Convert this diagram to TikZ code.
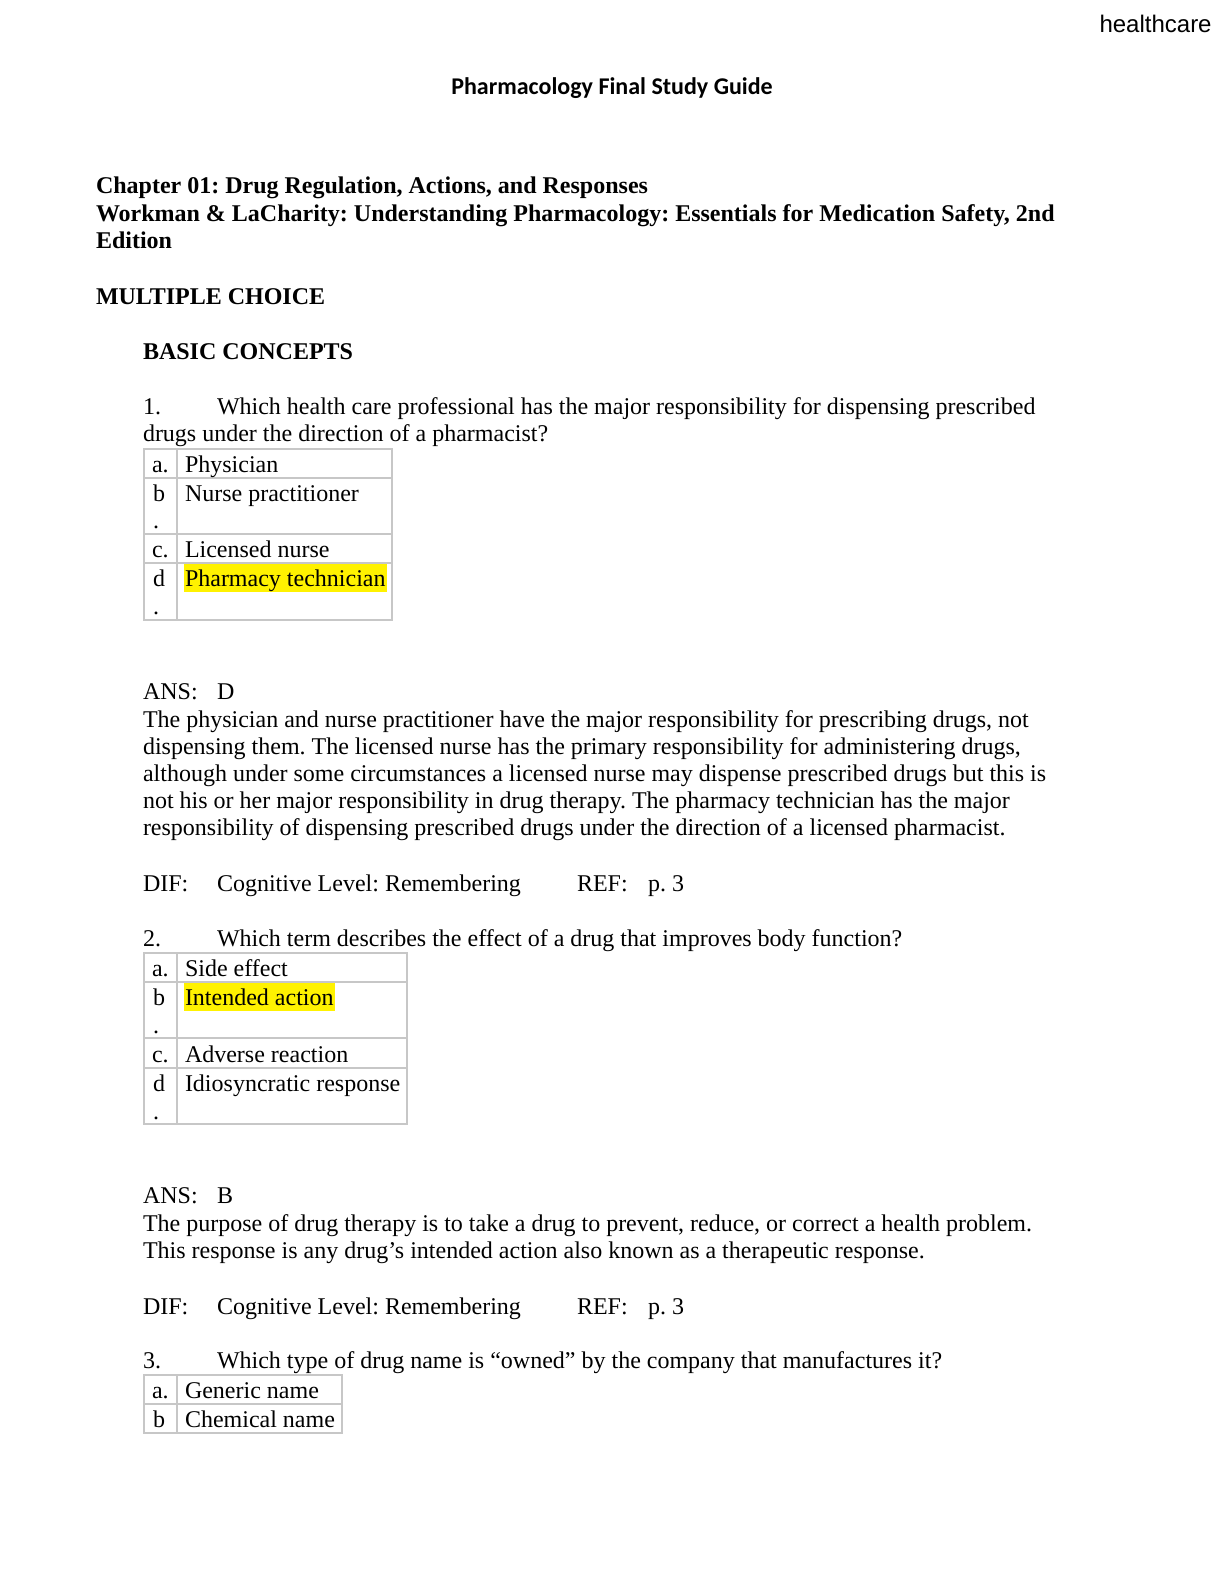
\documentclass[tikz,border=0pt]{standalone}
\usepackage{fontspec}
\setmainfont{Liberation Serif}
\newfontfamily\hcfont{Liberation Sans}
\newfontfamily\ttlfont{Carlito}
\frenchspacing
\begin{document}
\frenchspacing
\begin{tikzpicture}[x=0.5pt,y=-0.5pt,
  txt/.style={anchor=base west,inner sep=0pt,outer sep=0pt,font=\fontsize{12}{13.8}\selectfont},
  bld/.style={txt,font=\fontsize{12}{13.8}\selectfont\bfseries},
  hl/.style={txt,fill=yellow,text height=11pt,text depth=3pt,inner xsep=0.5pt},
  grid/.style={draw=black!22,line width=1pt}]
\useasboundingbox[fill=white] (0,0) rectangle (1224,1584);

% header
\node[anchor=base east,inner sep=0pt,font=\hcfont\fontsize{12}{14}\selectfont] (hc) at (1212,33) {healthcare};
\node[anchor=base,inner sep=0pt,font=\ttlfont\bfseries\fontsize{12}{14}\selectfont] (title) at (612,95) {Pharmacology Final Study Guide};

% headings
\node[bld] (ch) at (96,193) {Chapter 01: Drug Regulation, Actions, and Responses};
\node[bld] (wk) at (96,221) {Workman \& LaCharity: Understanding Pharmacology: Essentials for Medication Safety, 2nd};
\node[bld] (ed) at (96,248) {Edition};
\node[bld] (mc) at (96,304) {MULTIPLE CHOICE};
\node[bld] (bc) at (143,359) {BASIC CONCEPTS};

% question 1
\node[txt] (q1n) at (143,414) {1.};
\node[txt] (q1a) at (217,414) {Which health care professional has the major responsibility for dispensing prescribed};
\node[txt] (q1b) at (143,441) {drugs under the direction of a pharmacist?};

\node[hl] (q1hl) at (184,586) {Pharmacy technician};
\draw[grid] (144,449) rectangle (392,620);
\draw[grid] (177,449) -- (177,620);
\foreach \yy in {478,534,563} \draw[grid] (144,\yy) -- (392,\yy);
\node[txt] (q1la) at (152,472) {a.};
\node[txt] (q1ta) at (185,472) {Physician};
\node[txt] (q1lb) at (153,501) {b};
\node[txt] (q1lbd) at (153,528) {.};
\node[txt] (q1tb) at (185,501) {Nurse practitioner};
\node[txt] (q1lc) at (152,557) {c.};
\node[txt] (q1tc) at (185,557) {Licensed nurse};
\node[txt] (q1ld) at (153,586) {d};
\node[txt] (q1ldd) at (153,614) {.};

\node[txt] (a1) at (143,699) {ANS:};
\node[txt] (a1v) at (217,699) {D};
\node[txt] (e1a) at (143,727) {The physician and nurse practitioner have the major responsibility for prescribing drugs, not};
\node[txt] (e1b) at (143,754) {dispensing them. The licensed nurse has the primary responsibility for administering drugs,};
\node[txt] (e1c) at (143,781) {although under some circumstances a licensed nurse may dispense prescribed drugs but this is};
\node[txt] (e1d) at (143,808) {not his or her major responsibility in drug therapy. The pharmacy technician has the major};
\node[txt] (e1e) at (143,835) {responsibility of dispensing prescribed drugs under the direction of a licensed pharmacist.};

\node[txt] (d1) at (143,891) {DIF:};
\node[txt] (d1v) at (217,891) {Cognitive Level: Remembering};
\node[txt] (r1) at (577,891) {REF:};
\node[txt] (r1v) at (648,891) {p. 3};

% question 2
\node[txt] (q2n) at (143,946) {2.};
\node[txt] (q2a) at (217,946) {Which term describes the effect of a drug that improves body function?};

\node[hl] (q2hl) at (184,1005) {Intended action};
\draw[grid] (144,953) rectangle (407,1124);
\draw[grid] (177,953) -- (177,1124);
\foreach \yy in {982,1038,1068} \draw[grid] (144,\yy) -- (407,\yy);
\node[txt] (q2la) at (152,976) {a.};
\node[txt] (q2ta) at (185,976) {Side effect};
\node[txt] (q2lb) at (153,1005) {b};
\node[txt] (q2lbd) at (153,1033) {.};
\node[txt] (q2lc) at (152,1062) {c.};
\node[txt] (q2tc) at (185,1062) {Adverse reaction};
\node[txt] (q2ld) at (153,1091) {d};
\node[txt] (q2ldd) at (153,1119) {.};
\node[txt] (q2td) at (185,1091) {Idiosyncratic response};

\node[txt] (a2) at (143,1203) {ANS:};
\node[txt] (a2v) at (217,1203) {B};
\node[txt] (e2a) at (143,1231) {The purpose of drug therapy is to take a drug to prevent, reduce, or correct a health problem.};
\node[txt] (e2b) at (143,1258) {This response is any drug’s intended action also known as a therapeutic response.};

\node[txt] (d2) at (143,1314) {DIF:};
\node[txt] (d2v) at (217,1314) {Cognitive Level: Remembering};
\node[txt] (r2) at (577,1314) {REF:};
\node[txt] (r2v) at (648,1314) {p. 3};

% question 3
\node[txt] (q3n) at (143,1368) {3.};
\node[txt] (q3a) at (217,1368) {Which type of drug name is “owned” by the company that manufactures it?};

\draw[grid] (144,1375) rectangle (342,1433);
\draw[grid] (177,1375) -- (177,1433);
\draw[grid] (144,1404) -- (342,1404);
\node[txt] (q3la) at (152,1398) {a.};
\node[txt] (q3ta) at (185,1398) {Generic name};
\node[txt] (q3lb) at (153,1427) {b};
\node[txt] (q3tb) at (185,1427) {Chemical name};
\end{tikzpicture}
\end{document}
